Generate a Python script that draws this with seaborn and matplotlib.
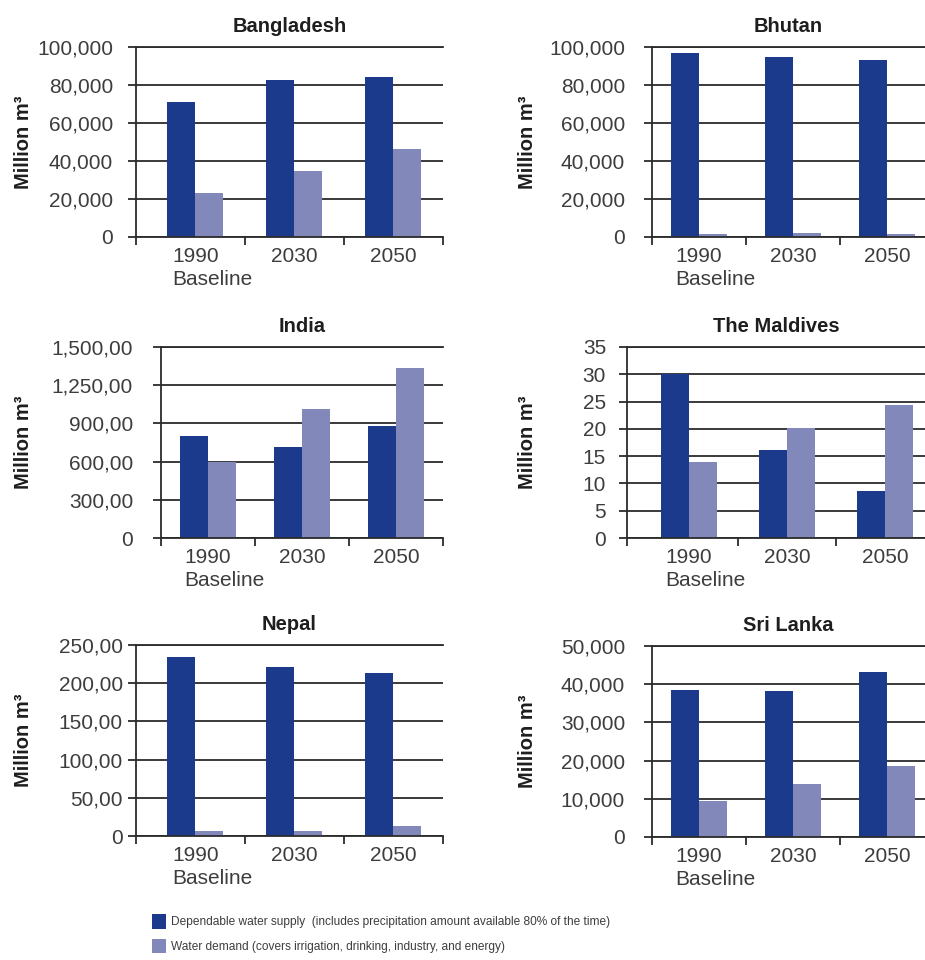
import matplotlib
matplotlib.use("Agg")
import matplotlib.pyplot as plt
import matplotlib.transforms as mtransforms
from matplotlib.patches import Patch
from matplotlib import font_manager
import pandas as pd
import seaborn as sns

# --- data ---
years = ["1990", "2030", "2050"]
series_names = [
    "Dependable water supply  (includes precipitation amount available 80% of the time)",
    "Water demand (covers irrigation, drinking, industry, and energy)",
]

bangladesh_supply = [71000, 82500, 84000]
bangladesh_demand = [23300, 34800, 46300]
bangladesh_ticks = [0, 20000, 40000, 60000, 80000, 100000]
bangladesh_labels = ["0", "20,000", "40,000", "60,000", "80,000", "100,000"]

bhutan_supply = [96700, 94600, 93000]
bhutan_demand = [1600, 2300, 1600]
bhutan_ticks = [0, 20000, 40000, 60000, 80000, 100000]
bhutan_labels = ["0", "20,000", "40,000", "60,000", "80,000", "100,000"]

india_supply = [804, 717, 882]
india_demand = [597, 1016, 1338]
india_ticks = [0, 300, 600, 900, 1200, 1500]
india_labels = ["0", "300,00", "600,00", "900,00", "1,250,00", "1,500,00"]

maldives_supply = [30.1, 16.2, 8.7]
maldives_demand = [14.0, 20.2, 24.3]
maldives_ticks = [0, 5, 10, 15, 20, 25, 30, 35]
maldives_labels = ["0", "5", "10", "15", "20", "25", "30", "35"]

nepal_supply = [234, 221, 214]
nepal_demand = [6.5, 6.5, 13]
nepal_ticks = [0, 50, 100, 150, 200, 250]
nepal_labels = ["0", "50,00", "100,00", "150,00", "200,00", "250,00"]

srilanka_supply = [38600, 38100, 43100]
srilanka_demand = [9300, 13800, 18500]
srilanka_ticks = [0, 10000, 20000, 30000, 40000, 50000]
srilanka_labels = ["0", "10,000", "20,000", "30,000", "40,000", "50,000"]

panels = [
    ("Bangladesh", bangladesh_supply, bangladesh_demand, bangladesh_ticks, bangladesh_labels),
    ("Bhutan", bhutan_supply, bhutan_demand, bhutan_ticks, bhutan_labels),
    ("India", india_supply, india_demand, india_ticks, india_labels),
    ("The Maldives", maldives_supply, maldives_demand, maldives_ticks, maldives_labels),
    ("Nepal", nepal_supply, nepal_demand, nepal_ticks, nepal_labels),
    ("Sri Lanka", srilanka_supply, srilanka_demand, srilanka_ticks, srilanka_labels),
]

# --- layout (pixels): left, right, top, bottom, x-limits, y tick label pad, y-label x ---
W, H = 925, 960
layout = [
    (136, 443, 47, 237, (-0.6, 2.5), 15, 33),
    (652, 925, 47, 237, (-0.5, 2.404), 19, 537),
    (161, 443, 347, 538, (-0.5, 2.5), 20, 33),
    (627, 925, 347, 538, (-0.63, 2.404), 13, 537),
    (136, 443, 645, 836, (-0.6, 2.5), 5, 33),
    (652, 925, 646, 837, (-0.5, 2.404), 19, 537),
]

dark_blue = "#1b3a8c"
light_blue = "#8388bb"
line_col = "#2b2b2b"
text_col = "#3d3d3d"

sns.set_style("white")
plt.rcParams["font.family"] = ["Liberation Sans", "DejaVu Sans"]
px = 0.72  # points per pixel at 100 dpi

fig = plt.figure(figsize=(W / 100, H / 100), dpi=100)
axes = []
for (name, supply, demand, ticks, labels), (l, r, t, b, xlim, pad, ylx) in zip(panels, layout):
    ax = fig.add_axes([l / W, 1 - b / H, (r - l) / W, (b - t) / H])
    df = pd.DataFrame({
        "year": years * 2,
        "value": supply + demand,
        "series": [series_names[0]] * 3 + [series_names[1]] * 3,
    })
    ppu = (r - l) / (xlim[1] - xlim[0])
    sns.barplot(data=df, x="year", y="value", hue="series", order=years,
                hue_order=series_names, palette=[dark_blue, light_blue],
                width=56 / ppu, saturation=1, errorbar=None, linewidth=0,
                legend=False, ax=ax)
    ax.set_xlim(*xlim)
    ax.set_ylim(0, ticks[-1])
    ax.set_yticks(ticks)
    ax.set_yticklabels(labels)
    ax.set_xticks(range(len(years)))
    ax.set_xticklabels(years)
    bounds = [xlim[0], 0.5, 1.5, 2.5]
    ax.set_xticks([v for v in bounds if v <= xlim[1] + 1e-9], minor=True)

    ax.set_axisbelow(True)
    ax.yaxis.grid(True, color=line_col, linewidth=1.3)
    ax.xaxis.grid(False)
    for side in ["top", "left", "bottom"]:
        ax.spines[side].set_color(line_col)
        ax.spines[side].set_linewidth(1.3)
    ax.spines["right"].set_visible(False)

    ax.tick_params(axis="y", which="major", left=True, direction="out", length=8 * px,
                   width=1.3, color=line_col, pad=pad * px, labelsize=15,
                   labelcolor=text_col)
    ax.tick_params(axis="x", which="major", bottom=True, length=0, pad=10 * px,
                   labelsize=15, labelcolor=text_col)
    ax.tick_params(axis="x", which="minor", bottom=True, direction="out", length=8 * px,
                   width=1.3, color=line_col)

    ax.set_xlabel("")
    ax.set_ylabel("Million m³", fontsize=14.5, fontweight="bold", color="#1e1e1e")
    trans = mtransforms.blended_transform_factory(fig.transFigure, ax.transAxes)
    ax.yaxis.set_label_coords(ylx / W, 0.5, transform=trans)
    ax.set_title(name, fontsize=14.5, fontweight="bold", color="#1e1e1e", pad=10.5)
    axes.append(ax)

# "Baseline" under the 1990 label, left-aligned with it
fig.canvas.draw()
for ax in axes:
    bb = ax.get_xticklabels()[0].get_window_extent()
    yc = (bb.y0 + bb.y1) / 2 - 23
    fig.text(bb.x0 / W, yc / H, "Baseline", ha="left", va="center",
             fontsize=15, color=text_col)

# legend
names = {f.name for f in font_manager.fontManager.ttflist}
if "Liberation Sans Narrow" in names:
    leg_family, leg_size = "Liberation Sans Narrow", 10.2
else:
    leg_family, leg_size = "Liberation Sans", 8.6
fs_px = leg_size / px
handles = [Patch(facecolor=dark_blue, edgecolor="none"),
           Patch(facecolor=light_blue, edgecolor="none")]
fig.legend(handles, series_names, loc="upper left",
           bbox_to_anchor=(146 / W, 1 - 908 / H), frameon=False, borderpad=0,
           handlelength=14 / fs_px, handleheight=18 / fs_px,
           handletextpad=5 / fs_px, labelspacing=10 / fs_px,
           prop={"family": leg_family, "size": leg_size}, labelcolor=text_col)

fig.savefig("out.png", dpi=100)
